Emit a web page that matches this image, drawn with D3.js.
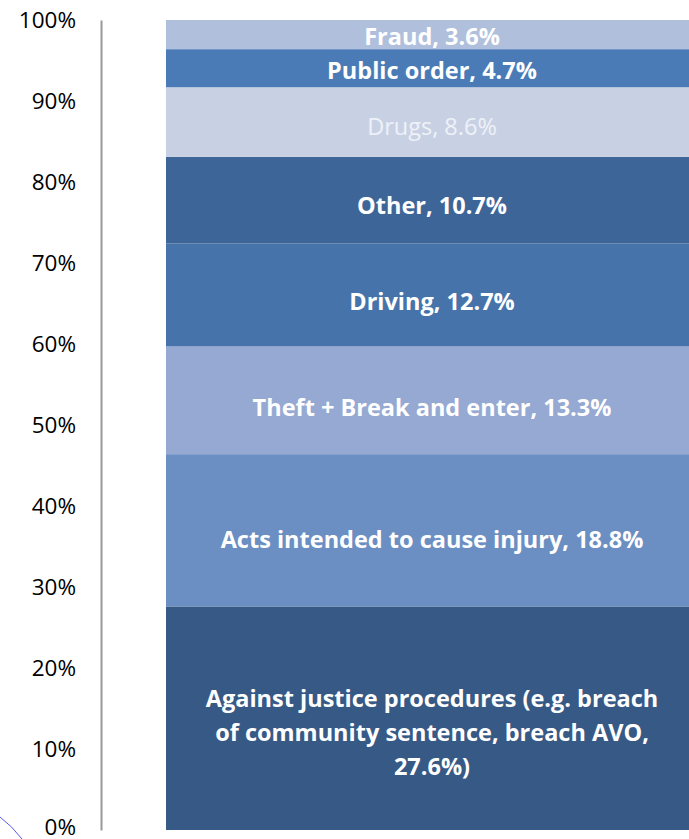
<!DOCTYPE html>
<html><head><meta charset="utf-8">
<script src="https://cdn.jsdelivr.net/npm/d3@7"></script>
<style>html,body{margin:0;padding:0;background:#fff;overflow:hidden}</style>
</head><body>
<svg id="chart" width="689" height="839"></svg>
<script>
const categories = [
  "Against justice procedures (e.g. breach of community sentence, breach AVO,",
  "Acts intended to cause injury",
  "Theft + Break and enter",
  "Driving",
  "Other",
  "Drugs",
  "Public order",
  "Fraud"
];
const values = [27.6, 18.8, 13.3, 12.7, 10.7, 8.6, 4.7, 3.6];
const labelLines = [
  ["Against justice procedures (e.g. breach", "of community sentence, breach AVO,", "27.6%)"],
  ["Acts intended to cause injury, 18.8%"],
  ["Theft + Break and enter, 13.3%"],
  ["Driving, 12.7%"],
  ["Other, 10.7%"],
  ["Drugs, 8.6%"],
  ["Public order, 4.7%"],
  ["Fraud, 3.6%"]
];
const colors = ["#375985", "#6b8fc3", "#95a9d2", "#4673a9", "#3e6597", "#c8d1e4", "#4a7bb6", "#b0c0dc"];
const tickValues = [0, 10, 20, 30, 40, 50, 60, 70, 80, 90, 100];

const svg = d3.select("#chart");
const y = d3.scaleLinear().domain([0, 100]).range([830, 20]);
const x = d3.scaleBand().domain(["All"]).range([166, 698]).padding(0);

let cum = 0;
const segs = values.map((v, i) => { const s = {i, v, y0: cum, y1: cum + v}; cum += v; return s; });

svg.selectAll("rect.seg").data(segs).enter().append("rect")
  .attr("class", "seg")
  .attr("x", x("All"))
  .attr("width", x.bandwidth())
  .attr("y", d => y(d.y1))
  .attr("height", d => y(d.y0) - y(d.y1))
  .attr("fill", d => colors[d.i]);

const lh = 34;
segs.forEach(d => {
  const lines = labelLines[d.i];
  const h = y(d.y0) - y(d.y1);
  const cy = (y(d.y0) + y(d.y1)) / 2 + 0.065 * h;
  const isDrugs = d.i === 5;
  const t = svg.append("text")
    .attr("text-anchor", "middle")
    .attr("font-family", "'Open Sans', sans-serif")
    .attr("font-size", 23.5)
    .attr("font-weight", isDrugs ? 400 : 700)
    .attr("fill", isDrugs ? "#eef1f7" : "#ffffff");
  lines.forEach((ln, k) => {
    t.append("tspan")
      .attr("x", x("All") + x.bandwidth() / 2)
      .attr("y", cy + (k - (lines.length - 1) / 2) * lh)
      .attr("dy", "0.35em")
      .text(ln);
  });
});

const axis = d3.axisLeft(y).tickValues(tickValues).tickFormat(d => d + "%").tickSize(0).tickPadding(0);
const g = svg.append("g").attr("transform", "translate(101,0)").call(axis);
g.select(".domain").attr("stroke", "#999999").attr("stroke-width", 2);
g.selectAll(".tick text")
  .attr("x", -25)
  .attr("font-family", "'Open Sans', sans-serif")
  .attr("font-size", 22.5)
  .attr("fill", "#000");
g.selectAll(".tick").filter(d => d === 0).select("text").attr("dy", "0.22em");

svg.append("path")
  .attr("d", "M0,817 Q12,826 22,839")
  .attr("fill", "none")
  .attr("stroke", "#5a5ae6")
  .attr("stroke-width", 1);
</script>
</body></html>
